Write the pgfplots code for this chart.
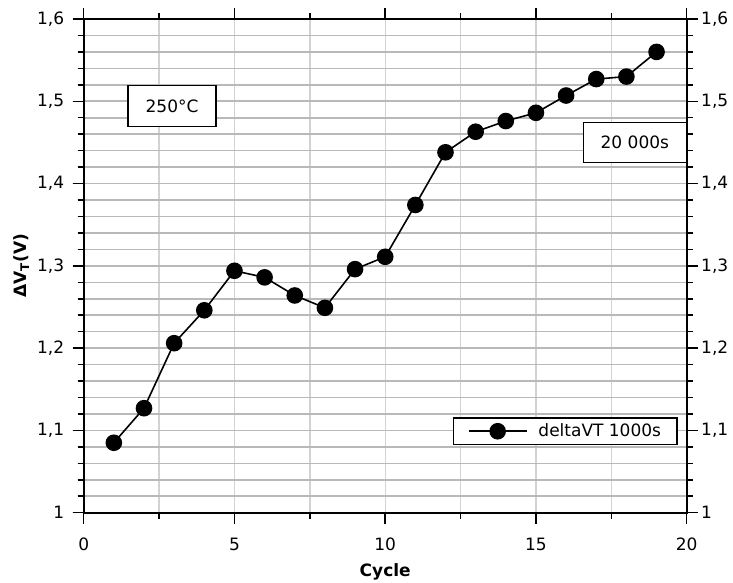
\documentclass[border=0pt]{standalone}
\usepackage{fontspec}
\setmainfont{DejaVu Sans}
\usepackage{pgfplots}
\pgfplotsset{compat=1.18}
\pgfplotstableread{
x y
1 1.085
2 1.127
3 1.206
4 1.246
5 1.294
6 1.286
7 1.264
8 1.249
9 1.296
10 1.311
11 1.374
12 1.438
13 1.463
14 1.476
15 1.486
16 1.507
17 1.527
18 1.530
19 1.560
}\datatable
\begin{document}
\begin{tikzpicture}[font=\fontsize{17}{20}\selectfont]
\useasboundingbox (-83.7pt,-70.3pt) rectangle (649.3pt,512.7pt);
\pgfplotsset{common/.style={
  scale only axis, width=603pt, height=493.7pt,
  at={(0pt,0pt)}, anchor=south west,
  xmin=0, xmax=20, ymin=1, ymax=1.6,
  xtick={0,5,10,15,20}, ytick={1,1.1,1.2,1.3,1.4,1.5,1.6},
  minor x tick num=1, minor y tick num=4,
  tick align=outside,
  major tick length=11pt, minor tick length=6pt,
  every tick/.style={black, line width=1.5pt},
  axis line style={line width=1.8pt, black},
  xticklabel shift=11pt, yticklabel shift=5pt,
  /pgf/number format/.cd, fixed, precision=1, use comma, assume math mode=true,
  /pgfplots/.cd,
  tick label style={font=\fontsize{17}{20}\selectfont},
}}
% axis with vertical grid and right labels
\begin{axis}[common,
  xmajorgrids, xminorgrids,
  major grid style={gray!35, line width=1.4pt},
  minor grid style={gray!35, line width=1.4pt},
  yticklabel pos=right, yticklabel shift=0pt,
  xticklabels={},
]
\end{axis}
% main axis
\begin{axis}[common,
  ymajorgrids, yminorgrids,
  major grid style={gray!55, line width=1.6pt},
  minor grid style={gray!55, line width=1.6pt},
  xlabel={\textbf{Cycle}},
  ylabel={\textbf{ΔV\textsubscript{T}(V)}},
  xlabel style={at={(axis description cs:0.5,-0.1195)}, anchor=center},
  ylabel style={at={(axis description cs:-0.1035,0.5)}, anchor=center},
  legend style={at={(axis cs:19.7,1.099)}, anchor=east, draw=black, line width=1.2pt,
    fill=white, inner xsep=14pt, inner ysep=4pt, font=\fontsize{17}{20}\selectfont},
  legend cell align=left,
  legend image code/.code={
    \draw[mark repeat=2, mark phase=2, #1] plot coordinates {(0pt,0pt) (29pt,0pt) (58pt,0pt)};
  },
]
\addplot[black, line width=1.6pt, mark=*, mark size=7.5pt, mark options={solid, fill=black}] table[x=x, y=y] {\datatable};
\addlegendentry{\hspace{9pt}deltaVT 1000s}
\node[draw=black, line width=1.2pt, fill=white, minimum width=88pt, minimum height=41pt] at (axis cs:2.93,1.494) {250°C};
\node[draw=black, line width=1.2pt, fill=white, minimum width=103pt, minimum height=40pt] at (axis cs:18.28,1.450) {20 000s};
\end{axis}
\end{tikzpicture}
\end{document}
